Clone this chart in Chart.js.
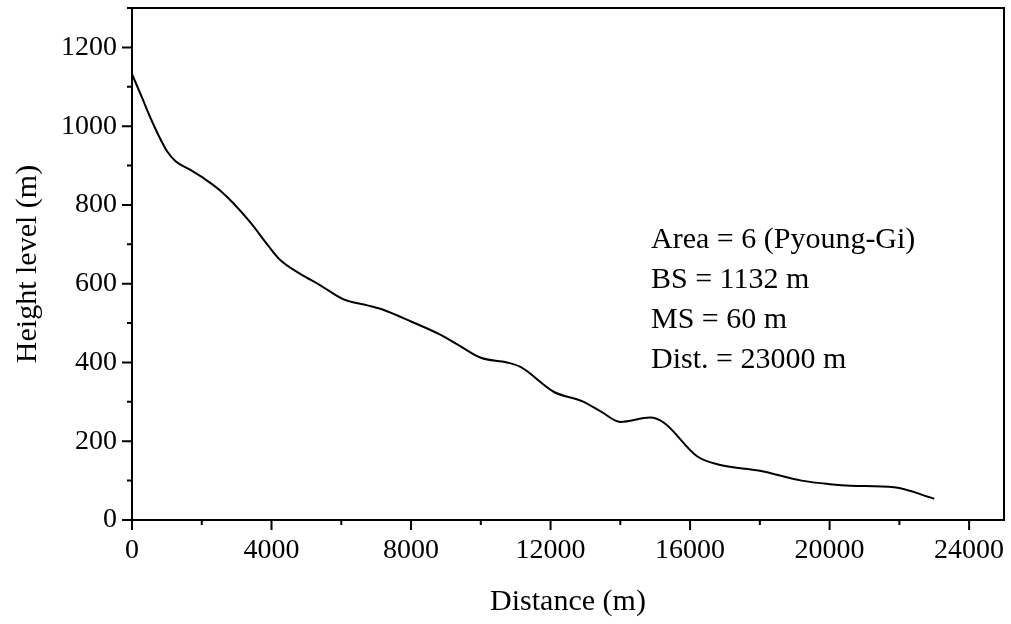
<!DOCTYPE html>
<html>
<head>
<meta charset="utf-8">
<script src="https://cdn.jsdelivr.net/npm/chart.js@4"></script>
<style>
  html, body { margin: 0; padding: 0; background: #fff; }
  #wrap { width: 1011px; height: 624px; }
</style>
</head>
<body>
<div id="wrap"><canvas id="profileChart" width="1011" height="624"></canvas></div>
<script>
// profile: distance (m) vs height (m)
const distances = [0, 300, 500, 770, 1000, 1250, 1650, 2100, 2550, 2900, 3400, 3900, 4250, 4800, 5400,
  6050, 6750, 7200, 8000, 8850, 9400, 10000, 10750, 11150, 12100, 12900, 13450, 14000, 14850,
  15250, 16200, 16800, 18000, 19200, 20000, 20600, 21850, 23000]
const heights = [1132, 1070, 1027, 975, 937, 911, 890, 865, 835, 805, 755, 697, 660, 626, 596,
  561, 545, 534, 504, 470, 442, 412, 400, 388, 325, 302, 275, 249, 260,
  247, 162, 141, 125, 100, 91, 87, 83, 54]

const xTicks = [0, 4000, 8000, 12000, 16000, 20000, 24000]
const yTicks = [0, 200, 400, 600, 800, 1000, 1200]
const xMinorStep = 2000
const yMinorStep = 100

const infoLines = ['Area = 6 (Pyoung-Gi)', 'BS = 1132 m', 'MS = 60 m', 'Dist. = 23000 m']

const FONT = 'Liberation Serif, Times New Roman, serif'

const frame = {
  id: 'frame',
  afterDraw(chart) {
    const { ctx, chartArea: a, scales: { x, y } } = chart
    ctx.save()
    ctx.strokeStyle = '#000'
    ctx.lineWidth = 2
    ctx.strokeRect(a.left, a.top, a.right - a.left, a.bottom - a.top)

    // outward ticks, long on labelled values, short in between
    ctx.beginPath()
    for (let v = 0; v <= 24000; v += xMinorStep) {
      const px = x.getPixelForValue(v)
      const len = xTicks.includes(v) ? 10 : 5
      ctx.moveTo(px, a.bottom)
      ctx.lineTo(px, a.bottom + len)
    }
    for (let v = 0; v <= 1300; v += yMinorStep) {
      const py = y.getPixelForValue(v)
      const len = yTicks.includes(v) ? 10 : 5
      ctx.moveTo(a.left, py)
      ctx.lineTo(a.left - len, py)
    }
    ctx.stroke()

    // info text block
    ctx.fillStyle = '#000'
    ctx.font = '30px ' + FONT
    ctx.textAlign = 'left'
    ctx.textBaseline = 'alphabetic'
    infoLines.forEach((line, i) => {
      ctx.fillText(line, 651, 248 + i * 40)
    })
    ctx.restore()
  }
}

new Chart(document.getElementById('profileChart'), {
  type: 'line',
  data: {
    datasets: [{
      data: distances.map((d, i) => ({ x: d, y: heights[i] })),
      borderColor: '#000',
      borderWidth: 2,
      pointRadius: 0,
      fill: false,
      cubicInterpolationMode: 'monotone'
    }]
  },
  options: {
    responsive: false,
    animation: false,
    layout: { padding: { top: 8, right: 7, left: 0, bottom: 0 } },
    plugins: { legend: { display: false }, tooltip: { enabled: false } },
    scales: {
      x: {
        type: 'linear',
        min: 0,
        max: 25000,
        afterBuildTicks: scale => { scale.ticks = xTicks.map(v => ({ value: v })) },
        afterFit: scale => {
          scale.height = 104
          scale.paddingLeft = 0
          scale.paddingRight = 0
        },
        grid: { display: false, drawTicks: false },
        border: { display: false },
        ticks: {
          padding: 14,
          color: '#000',
          maxRotation: 0,
          autoSkip: false,
          font: { family: FONT, size: 28 },
          callback: v => String(v)
        },
        title: {
          display: true,
          text: 'Distance (m)',
          color: '#000',
          font: { family: FONT, size: 30 },
          padding: { top: 0, bottom: 4 }
        }
      },
      y: {
        type: 'linear',
        min: 0,
        max: 1300,
        afterBuildTicks: scale => { scale.ticks = yTicks.map(v => ({ value: v })) },
        afterFit: scale => {
          scale.width = 132
          scale.paddingTop = 0
          scale.paddingBottom = 0
        },
        grid: { display: false, drawTicks: false },
        border: { display: false },
        ticks: {
          padding: 15,
          color: '#000',
          autoSkip: false,
          font: { family: FONT, size: 28 },
          callback: v => String(v)
        },
        title: {
          display: true,
          text: 'Height level (m)',
          color: '#000',
          font: { family: FONT, size: 30 },
          padding: { top: 10, bottom: 0 }
        }
      }
    }
  },
  plugins: [frame]
})
</script>
</body>
</html>
